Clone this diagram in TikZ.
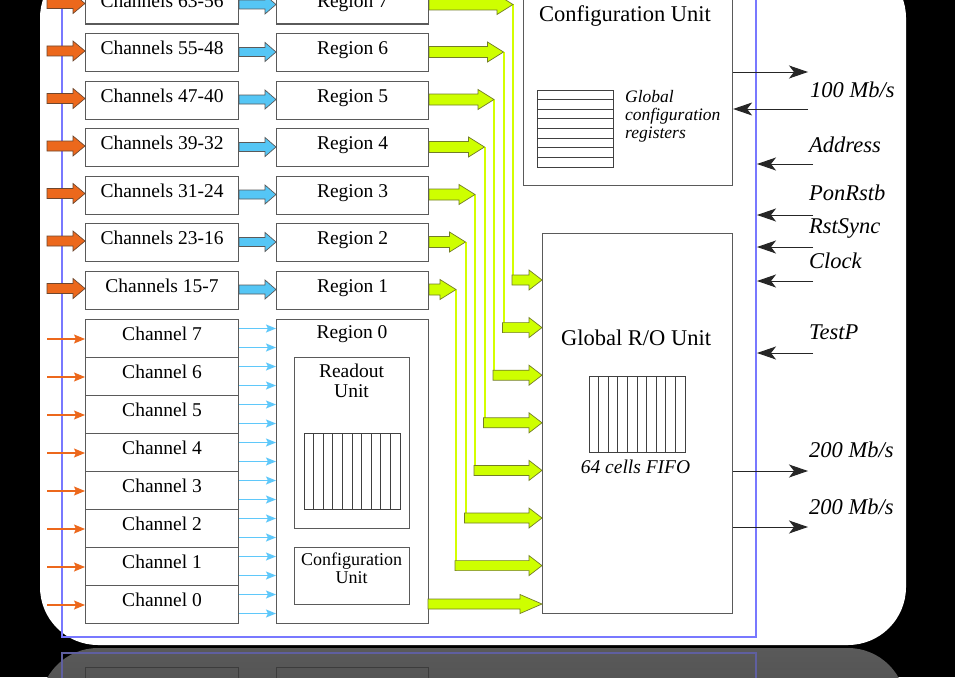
\documentclass[tikz,border=0pt]{standalone}
\usepackage{fontspec}
\setmainfont{Liberation Serif}
\usetikzlibrary{calc,arrows.meta}
\definecolor{orangeA}{RGB}{236,104,28}
\definecolor{orangeD}{RGB}{110,70,45}
\definecolor{blueA}{RGB}{85,198,245}
\definecolor{blueT}{RGB}{95,200,250}
\definecolor{yellowA}{RGB}{206,255,0}
\definecolor{yellowD}{RGB}{115,125,40}
\definecolor{yellowL}{RGB}{212,255,0}
\definecolor{frameB}{RGB}{120,120,255}
\definecolor{boxG}{RGB}{90,90,90}
\definecolor{reflTop}{RGB}{90,90,90}
\definecolor{reflBot}{RGB}{70,70,70}
\definecolor{reflLine}{RGB}{60,60,60}
\definecolor{reflBlue}{RGB}{95,95,160}
\newcommand\fatarr[6]{%
  \path[#1] let \p1=#2, \p2=#3 in
    (\x1,\y1+#4) -- (\x2-#6,\y1+#4) -- (\x2-#6,\y1+#5) -- (\x2,\y1)
    -- (\x2-#6,\y1-#5) -- (\x2-#6,\y1-#4) -- (\x1,\y1-#4) -- cycle;}
\begin{document}
\begin{tikzpicture}[x=1pt,y=-1pt,
  box/.style={draw=boxG, line width=1.1pt, fill=white, inner sep=0pt, anchor=north west},
  grp/.style={box, minimum width=153pt, minimum height=38pt, text height=14pt, text depth=10pt,
    font=\fontsize{19.5pt}{23pt}\selectfont},
  reg/.style={grp, minimum width=152pt},
  txt/.style={anchor=base, inner sep=0pt, font=\fontsize{19.5pt}{23pt}\selectfont},
  big/.style={anchor=base, inner sep=0pt, font=\fontsize{22.5pt}{26pt}\selectfont},
  sig/.style={anchor=base west, inner sep=0pt, font=\fontsize{22.5pt}{26pt}\selectfont\itshape},
  oarrow/.style={fill=orangeA, draw=orangeD, line width=0.7pt},
  barrow/.style={fill=blueA, draw=boxG, line width=0.7pt},
  yarrow/.style={fill=yellowA, draw=yellowD, line width=0.7pt},
  yline/.style={draw=yellowL, line width=2pt},
  othin/.style={draw=orangeA, line width=1.2pt, -{Stealth[length=11pt,width=9pt,inset=2pt]}},
  bthin/.style={draw=blueT, line width=1.2pt, -{Stealth[length=10pt,width=8pt,inset=2pt]}},
  sigline/.style={draw=black!85, line width=1pt, -{Stealth[length=19pt,width=13pt,inset=5pt]}},
  frame/.style={draw=frameB, line width=2.2pt},
  cell/.style={draw=black!75, line width=0.8pt}]
\useasboundingbox (0,0) rectangle (955,677);
\fill[black] (0,0) rectangle (955,677);
% card
\fill[white, rounded corners=58pt] (40,-40) rectangle (906,645);
% reflection
\begin{scope}
  \clip (0,648) rectangle (955,677);
  \shade[top color=reflTop, bottom color=reflBot, rounded corners=58pt] (40,648) rectangle (906,760);
  \draw[reflBlue, line width=1.5pt] (62,690) -- (62,653) -- (756,653) -- (756,690);
  \draw[reflLine, line width=1pt] (85,690) -- (85,667) -- (238,667) -- (238,690);
  \draw[reflLine, line width=1pt] (276,690) -- (276,667) -- (428,667) -- (428,690);
\end{scope}
% frame
\draw[frame] (62,-10) -- (62,637) -- (756,637) -- (756,-10);
% global configuration unit
\node[box, minimum width=209pt, minimum height=215pt] (cfg) at (523,-30) {};
\node[big] (cfgt) at (625,22) {Configuration Unit};
\draw[cell, fill=white] (537,90) rectangle (613,167);
\foreach \i in {1,...,7} { \draw[cell] (537,{90+\i*9.625}) -- (613,{90+\i*9.625}); }
\begin{scope}[every node/.style={anchor=base west, inner sep=0pt, font=\fontsize{17.5pt}{18pt}\selectfont\itshape}]
  \node (gcr1) at (625,102) {Global};
  \node (gcr2) at (625,120) {configuration};
  \node (gcr3) at (625,138) {registers};
\end{scope}
% global R/O unit
\node[box, minimum width=190pt, minimum height=380pt] (gro) at (542,233) {};
\node[big] (grot) at (636,345) {Global R/O Unit};
\draw[cell, fill=white] (589,376) rectangle (685,452);
\foreach \i in {1,...,9} { \draw[cell] ({589+\i*9.6},376) -- ({589+\i*9.6},452); }
\node[txt, font=\fontsize{19.5pt}{23pt}\selectfont\itshape] (fifot) at (635.5,473) {64 cells FIFO};
% grouped channels and regions
\foreach \r/\lab/\T/\xt/\Y in {7/63-56/-14.5/513/280, 6/55-48/33/503.5/327.6, 5/47-40/80.5/494/375.2,
    4/39-32/128/484.5/422.8, 3/31-24/175.5/475/470.4, 2/23-16/223/465.5/518, 1/15-7/270.5/456/565.6}{
  \node[grp] (c\r) at (85,\T) {Channels \lab};
  \node[reg] (r\r) at (276,\T) {Region \r};
  \coordinate (oi\r) at (47,{\T+18});
  \fatarr{oarrow}{(oi\r)}{(c\r.west)}{5pt}{10pt}{12pt}
  \fatarr{barrow}{($(c\r.north east)+(0,19)$)}{(r\r.west)}{4.5pt}{9.5pt}{11pt}
  \coordinate (ut\r) at (\xt,{\T+19});
  \coordinate (ub\r) at (\xt,{\Y+5});
  \coordinate (lo\r) at ({\xt-1},\Y);
  \draw[yline] (ut\r) -- (ub\r);
  \fatarr{yarrow}{($(r\r.north east)+(0,19)$)}{(ut\r)}{5.5pt}{10pt}{16pt}
  \fatarr{yarrow}{(lo\r)}{(gro.west)}{5pt}{10pt}{13pt}
}
% region 0
\node[box, minimum width=152pt, minimum height=304pt] (r0) at (276,319) {};
\node[txt] (r0t) at (352,338) {Region 0};
\node[box, minimum width=115pt, minimum height=171pt] (rdo) at (294,357) {};
\node[txt] (rdo1) at (351.5,377) {Readout};
\node[txt] (rdo2) at (351.5,397) {Unit};
\draw[cell, fill=white] (304,433) rectangle (400,509);
\foreach \i in {1,...,9} { \draw[cell] ({304+\i*9.6},433) -- ({304+\i*9.6},509); }
\node[box, minimum width=115pt, minimum height=57pt] (lcfg) at (294,547) {};
\node[txt, font=\fontsize{18pt}{20pt}\selectfont] (lcfg1) at (351.5,565) {Configuration};
\node[txt, font=\fontsize{18pt}{20pt}\selectfont] (lcfg2) at (351.5,583) {Unit};
\coordinate (r0o) at (428,604);
\fatarr{yarrow}{(r0o)}{(gro.west)}{5pt}{9.5pt}{22pt}
% single channels
\foreach \k/\S in {7/319, 6/357, 5/395, 4/433, 3/471, 2/509, 1/547, 0/585}{
  \node[grp] (ch\k) at (85,\S) {Channel \k};
  \coordinate (ot\k) at (47,{\S+20});
  \draw[othin] (ot\k) -- (ot\k -| ch\k.west);
  \coordinate (ba\k) at ($(ch\k.north east)+(0,9.5)$);
  \coordinate (bb\k) at ($(ch\k.north east)+(0,28.5)$);
  \draw[bthin] (ba\k) -- (ba\k -| r0.west);
  \draw[bthin] (bb\k) -- (bb\k -| r0.west);
}
% external signals
\coordinate (o100) at (808,72);
\coordinate (i100) at (808,109);
\coordinate (iadr) at (813,164);
\coordinate (ipon) at (813,215);
\coordinate (irst) at (813,247);
\coordinate (iclk) at (813,281);
\coordinate (itst) at (813,353);
\coordinate (o200a) at (808,471);
\coordinate (o200b) at (808,527);
\draw[sigline] (o100 -| cfg.east) -- (o100);
\draw[sigline] (i100) -- (i100 -| cfg.east);
\draw[sigline] (iadr) -- (757,164);
\draw[sigline] (ipon) -- (757,215);
\draw[sigline] (irst) -- (757,247);
\draw[sigline] (iclk) -- (757,281);
\draw[sigline] (itst) -- (757,353);
\draw[sigline] (o200a -| gro.east) -- (o200a);
\draw[sigline] (o200b -| gro.east) -- (o200b);
\node[sig] (l100) at (810,97) {100 Mb/s};
\node[sig] (ladr) at (809,152) {Address};
\node[sig] (lpon) at (809,200) {PonRstb};
\node[sig] (lrst) at (809,233) {RstSync};
\node[sig] (lclk) at (809,268) {Clock};
\node[sig] (ltst) at (809,339) {TestP};
\node[sig] (l200a) at (809,457) {200 Mb/s};
\node[sig] (l200b) at (809,514) {200 Mb/s};
\end{tikzpicture}
\end{document}
